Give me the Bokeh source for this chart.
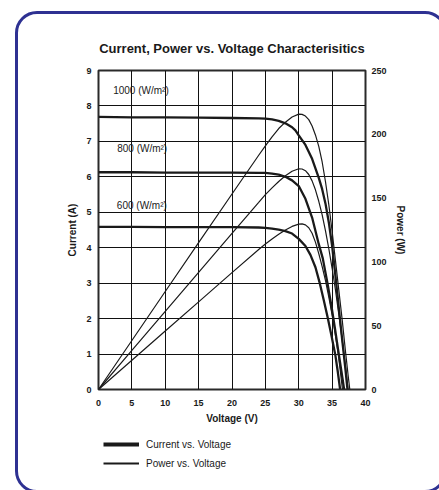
from bokeh.plotting import figure
from bokeh.layouts import column
from bokeh.models import Range1d, LinearAxis, Label, FixedTicker, Legend, LegendItem, InlineStyleSheet
from bokeh.embed import file_html
from bokeh.resources import INLINE

# ---- data ----
v_c1000 = [0, 5, 10, 15, 20, 24, 25, 26, 27, 28, 29, 29.5, 30, 31, 32, 33, 33.5, 34, 34.5, 35, 35.5, 36, 36.5, 37, 37.3]
i_c1000 = [7.69, 7.68, 7.68, 7.67, 7.66, 7.65, 7.64, 7.62, 7.58, 7.51, 7.40, 7.31, 7.17, 6.90, 6.51, 5.97, 5.66, 5.25, 4.72, 4.05, 3.20, 2.30, 1.42, 0.56, 0.0]
v_c800 = [0, 5, 10, 15, 20, 24, 25, 26, 27, 28, 29, 30, 31, 32, 33, 33.6, 34.3, 34.9, 35.4, 35.9, 36.4, 36.8]
i_c800 = [6.13, 6.13, 6.12, 6.12, 6.12, 6.11, 6.11, 6.09, 6.06, 6.00, 5.90, 5.74, 5.38, 4.85, 4.10, 3.70, 3.00, 2.35, 1.75, 1.12, 0.50, 0.0]
v_c600 = [0, 5, 10, 15, 20, 24, 25, 26, 27, 28, 29, 30, 31, 31.75, 32.5, 33.15, 33.75, 34.35, 34.9, 35.5, 35.85, 36.2]
i_c600 = [4.59, 4.59, 4.58, 4.58, 4.58, 4.57, 4.56, 4.54, 4.51, 4.47, 4.40, 4.25, 4.05, 3.80, 3.45, 3.00, 2.52, 2.02, 1.52, 0.95, 0.50, 0.0]

v_p1000 = [0, 5, 10, 15, 20, 24, 25, 26, 27, 28, 29, 30, 30.5, 31, 31.5, 32, 32.5, 33, 33.5, 34, 34.5, 35, 35.5, 36, 36.5, 37, 37.4, 37.65]
p_p1000 = [0, 38.4, 76.8, 115.1, 153.2, 183.6, 191.0, 198.0, 204.5, 209.5, 213.5, 215.8, 215.6, 214.3, 211.5, 206.5, 199.5, 190.5, 178.5, 163.0, 145.0, 124.0, 101.0, 78.0, 55.0, 30.0, 11.0, 0]
v_p800 = [0, 5, 10, 15, 20, 24, 25, 26, 27, 28, 29, 30, 30.5, 31, 31.5, 32, 32.5, 33, 33.5, 34, 34.5, 35, 35.5, 36, 36.5, 37, 37.4]
p_p800 = [0, 30.6, 61.2, 91.8, 122.4, 146.6, 152.7, 158.0, 163.0, 167.5, 171.0, 173.0, 172.8, 171.5, 168.5, 163.5, 156.5, 147.5, 137.0, 124.5, 110.5, 95.0, 78.0, 59.0, 39.0, 18.0, 0]
v_p600 = [0, 5, 10, 15, 20, 24, 25, 26, 27, 28, 29, 30, 30.5, 31, 31.5, 32, 32.5, 33, 33.5, 34, 34.5, 35, 35.5, 36, 36.55]
p_p600 = [0, 22.9, 45.8, 68.7, 91.6, 109.7, 114.0, 118.0, 121.6, 125.0, 127.8, 129.6, 129.8, 129.0, 126.8, 122.5, 115.5, 106.5, 96.5, 85.5, 72.5, 58.5, 42.5, 24.5, 0]

x_ticks = [0, 5, 10, 15, 20, 25, 30, 35, 40]
i_ticks = [0, 1, 2, 3, 4, 5, 6, 7, 8, 9]
p_ticks = [0, 50, 100, 150, 200, 250]
irr_labels = ["1000 (W/m\u00b2)", "800 (W/m\u00b2)", "600 (W/m\u00b2)"]
irr_pos_v = [2.2, 2.8, 2.75]
irr_pos_i = [8.44, 6.80, 5.19]

title_text = "Current, Power vs. Voltage Characterisitics"
legend_texts = ["Current vs. Voltage", "Power vs. Voltage"]

FONT = "Liberation Sans"
INK = "#1a1a1a"
NAN = float("nan")

chart = figure(width=439, height=430, output_backend="svg", toolbar_location=None,
               x_range=Range1d(0, 40), y_range=Range1d(0, 9),
               min_border_left=98, min_border_right=74, min_border_top=70, min_border_bottom=41)
chart.extra_y_ranges = {"power": Range1d(0, 250)}

chart.outline_line_color = "#2a2a2a"
chart.outline_line_width = 2
chart.background_fill_color = "white"
chart.border_fill_color = "white"

# title
chart.title.text = title_text
chart.title.align = "center"
chart.title.text_font = FONT
chart.title.text_font_style = "bold"
chart.title.text_font_size = "13px"
chart.title.text_color = INK
chart.title.standoff = 30

# axes
def style_axis(ax):
    ax.axis_line_color = None
    ax.major_tick_line_color = None
    ax.minor_tick_line_color = None
    ax.major_tick_out = 0
    ax.major_tick_in = 0
    ax.minor_tick_out = 0
    ax.minor_tick_in = 0
    ax.major_label_text_font = FONT
    ax.major_label_text_font_style = "bold"
    ax.major_label_text_font_size = "9px"
    ax.major_label_text_color = INK
    ax.axis_label_text_font = FONT
    ax.axis_label_text_font_style = "bold"
    ax.axis_label_text_font_size = "10px"
    ax.axis_label_text_color = INK

style_axis(chart.xaxis[0])
style_axis(chart.yaxis[0])
chart.xaxis.ticker = FixedTicker(ticks=x_ticks)
chart.yaxis.ticker = FixedTicker(ticks=i_ticks)
chart.xaxis.axis_label = "Voltage (V)"
chart.yaxis.axis_label = "Current (A)"
chart.xaxis.major_label_standoff = 10
chart.yaxis.major_label_standoff = 7
chart.xaxis.axis_label_standoff = 4
chart.yaxis.axis_label_standoff = 5

rax = LinearAxis(y_range_name="power", ticker=FixedTicker(ticks=p_ticks), axis_label="Power (W)")
style_axis(rax)
rax.major_label_standoff = 6
rax.axis_label_standoff = 5
chart.add_layout(rax, "right")

chart.xgrid.ticker = FixedTicker(ticks=x_ticks)
chart.ygrid.ticker = FixedTicker(ticks=i_ticks)
chart.xgrid.grid_line_color = "#111111"
chart.ygrid.grid_line_color = "#111111"
chart.xgrid.grid_line_width = 1
chart.ygrid.grid_line_width = 1

# curves
for vv, ii in [(v_c1000, i_c1000), (v_c800, i_c800), (v_c600, i_c600)]:
    chart.line(vv, ii, line_color=INK, line_width=2.3)
for vv, pp in [(v_p1000, p_p1000), (v_p800, p_p800), (v_p600, p_p600)]:
    chart.line(vv, pp, line_color=INK, line_width=1.2, y_range_name="power")

# irradiance labels
for t, xv, yv in zip(irr_labels, irr_pos_v, irr_pos_i):
    chart.add_layout(Label(x=xv, y=yv, text=t, text_font=FONT, text_font_size="10px",
                           text_color=INK, text_baseline="middle", text_align="left"))

# legend strip (a second figure whose frame hosts the legend)
key = figure(width=439, height=60, output_backend="svg", toolbar_location=None,
             x_range=Range1d(0, 1), y_range=Range1d(0, 1),
             min_border_left=0, min_border_right=0, min_border_top=0, min_border_bottom=0)
key.axis.visible = False
key.grid.visible = False
key.outline_line_color = None
key.background_fill_color = "white"
key.border_fill_color = "white"
# style-only renderers (a single empty point) so the legend draws its line samples
r_cur = key.line([NAN], [NAN], line_color=INK, line_width=4)
r_pow = key.line([NAN], [NAN], line_color=INK, line_width=2)
legend = Legend(items=[LegendItem(label=legend_texts[0], renderers=[r_cur]),
                       LegendItem(label=legend_texts[1], renderers=[r_pow])],
                location=(5, 18), orientation="vertical",
                margin=0, padding=0, spacing=1,
                glyph_width=36, glyph_height=18, label_height=18, label_standoff=7,
                label_text_font=FONT, label_text_font_size="10px", label_text_color=INK,
                border_line_color=None, background_fill_alpha=0)
key.add_layout(legend, "center")

p = column(chart, key, spacing=0)

# rounded blue frame around the whole chart
p.stylesheets = [InlineStyleSheet(css="""
:host { position: relative; overflow: hidden; }
:host::after {
  content: ""; position: absolute; left: 15px; top: 11px;
  width: 432px; height: 482px; box-sizing: border-box;
  border: 3px solid #2e3192; border-radius: 22px; pointer-events: none;
}
""")]

open("out.html", "w").write(file_html(p, INLINE))
